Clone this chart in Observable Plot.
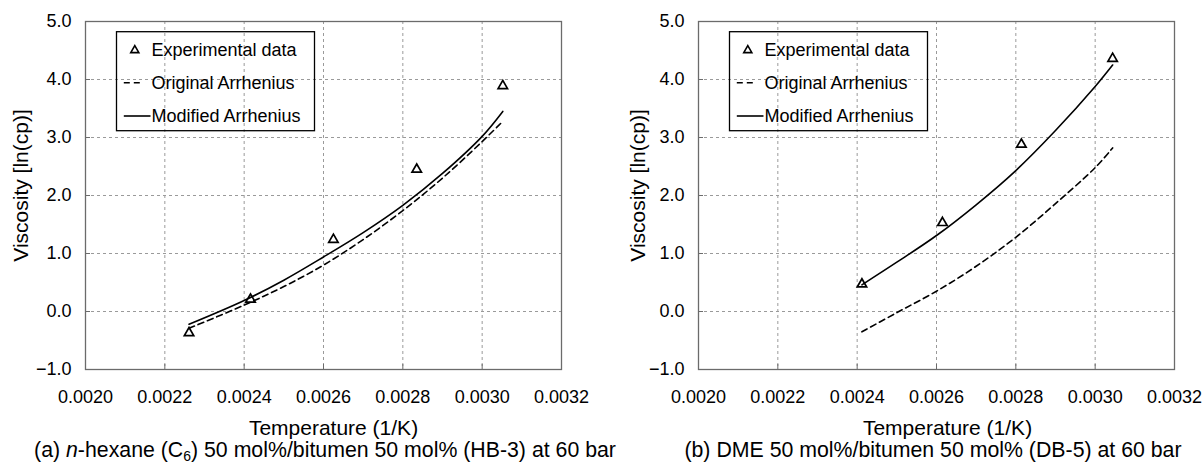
<!DOCTYPE html>
<html>
<head>
<meta charset="utf-8">
<script src="https://cdn.jsdelivr.net/npm/d3@7"></script>
<script src="https://cdn.jsdelivr.net/npm/@observablehq/plot@0.6"></script>
<style>
  html, body { margin: 0; padding: 0; background: #fff; }
  #wrap { position: relative; width: 1203px; height: 465px; overflow: hidden;
          font-family: "Liberation Sans", Arial, Helvetica, sans-serif; color: #000; }
  .panel { position: absolute; top: 0; }
  .cap { position: absolute; width: 600px; text-align: center; font-size: 21.3px; line-height: 24px; white-space: nowrap; }
  .cap sub { font-size: 14px; line-height: 0; vertical-align: -4px; }
</style>
</head>
<body>
<div id="wrap">
  <div class="panel" id="pa" style="left:0px"></div>
  <div class="panel" id="pb" style="left:600px"></div>
  <div class="cap" id="capA" style="left:25px;top:438px"></div>
  <div class="cap" id="capB" style="left:633px;top:438px"></div>
</div>
<script>
// Inverse temperature (1/K) against ln(viscosity in cP)

// (a) n-hexane / bitumen, HB-3
const hbTemp = [0.002261, 0.002416, 0.002625, 0.002835, 0.003052];
const hbVisc = [-0.37, 0.21, 1.24, 2.45, 3.89];
const hbCurveT = [0.002261, 0.0024, 0.0025, 0.0026, 0.0027, 0.0028, 0.0029, 0.0030, 0.003052];
const hbOrig = [-0.29, 0.11, 0.43, 0.80, 1.24, 1.74, 2.30, 2.93, 3.28];
const hbMod = [-0.22, 0.19, 0.54, 0.94, 1.36, 1.83, 2.38, 3.02, 3.45];

// (b) DME / bitumen, DB-5
const dbTemp = [0.002412, 0.002615, 0.002814, 0.003044];
const dbVisc = [0.47, 1.53, 2.88, 4.36];
const dbCurveT = [0.002412, 0.0025, 0.0026, 0.0027, 0.0028, 0.0029, 0.0030, 0.003044];
const dbOrig = [-0.35, -0.02, 0.35, 0.78, 1.28, 1.86, 2.48, 2.82];
const dbMod = [0.46, 0.85, 1.31, 1.84, 2.43, 3.12, 3.88, 4.25];

const xTicks = [0.0020, 0.0022, 0.0024, 0.0026, 0.0028, 0.0030, 0.0032];
const yTicks = [-1, 0, 1, 2, 3, 4, 5];
const legendLabels = ["Experimental data", "Original Arrhenius", "Modified Arrhenius"];
const xLabel = "Temperature (1/K)";
const yLabel = "Viscosity [ln(cp)]";
const captionA = '(a) <i>n</i>-hexane (C<sub>6</sub>) 50 mol%/bitumen 50 mol% (HB-3) at 60 bar';
const captionB = '(b) DME 50 mol%/bitumen 50 mol% (DB-5) at 60 bar';

const FONT = '"Liberation Sans", Arial, Helvetica, sans-serif';
const FRAME = "#6b6b6b";
const GRID = "#9a9a9a";

const pairs = (xs, ys) => xs.map((x, i) => ({t: x, v: ys[i]}));

function panel({width, marginLeft, marginRight, pts, orig, mod, xLabelDx, yLabelDx}) {
  const marginTop = 21, height = 438, marginBottom = height - 369;
  const fmtX = d3.format(".4f");
  const fmtY = d3.format(".1f");
  const svg = Plot.plot({
    width, height, marginLeft, marginRight, marginTop, marginBottom,
    style: {fontFamily: FONT, fontSize: "18px", color: "#000", background: "#fff", overflow: "visible"},
    x: {domain: [0.0020, 0.0032]},
    y: {domain: [-1, 5]},
    marks: [
      Plot.gridX(xTicks, {stroke: GRID, strokeOpacity: 1, strokeWidth: 1, strokeDasharray: "3,3"}),
      Plot.gridY(yTicks, {stroke: GRID, strokeOpacity: 1, strokeWidth: 1, strokeDasharray: "3,3"}),
      // tick labels
      Plot.axisX(xTicks, {tickSize: 0, tickPadding: 21, tickFormat: fmtX, label: null, fontSize: 18}),
      Plot.axisY(yTicks, {tickSize: 0, tickPadding: 14, tickFormat: fmtY, label: null, fontSize: 18}),
      // short inward tick marks
      Plot.axisX(xTicks, {tickSize: 5, dy: -5, tickFormat: () => "", label: null, stroke: FRAME}),
      Plot.axisY(yTicks, {tickSize: 5, dx: 5, tickFormat: () => "", label: null, stroke: FRAME}),
      Plot.frame({stroke: FRAME, strokeWidth: 1.3}),
      Plot.line(orig, {x: "t", y: "v", curve: "catmull-rom", stroke: "#000", strokeWidth: 1.6, strokeDasharray: "6,4"}),
      Plot.line(mod, {x: "t", y: "v", curve: "catmull-rom", stroke: "#000", strokeWidth: 1.6}),
      Plot.dot(pts, {x: "t", y: "v", symbol: "triangle", r: 3.5, stroke: "#000", strokeWidth: 1.7, fill: "none"}),
      Plot.text([xLabel], {frameAnchor: "bottom", lineAnchor: "middle", textAnchor: "middle", dy: 59, dx: xLabelDx, fontSize: 21, fill: "#000"}),
      Plot.text([yLabel], {frameAnchor: "left", lineAnchor: "middle", textAnchor: "middle", rotate: -90, dx: yLabelDx, dy: -10, fontSize: 21, fill: "#000"})
    ]
  });

  // legend box in the upper-left corner of the frame (transparent, grid shows through)
  const g = d3.select(svg).append("g").attr("font-family", FONT).attr("font-size", 18).attr("text-anchor", "start");
  const bx = marginLeft + 31.5, by = marginTop + 10.7, bw = 198, bh = 99;
  g.append("rect").attr("x", bx).attr("y", by).attr("width", bw).attr("height", bh)
    .attr("fill", "none").attr("stroke", "#000").attr("stroke-width", 1.3);
  const rows = [by + 17.6, by + 51, by + 84.3];
  g.append("path").attr("d", d3.symbol(d3.symbolTriangle, Math.PI * 3 * 3)())
    .attr("transform", `translate(${bx + 18.3},${rows[0] + 1})`)
    .attr("fill", "none").attr("stroke", "#000").attr("stroke-width", 1.6);
  g.append("line").attr("x1", bx + 7.3).attr("x2", bx + 27).attr("y1", rows[1]).attr("y2", rows[1])
    .attr("stroke", "#000").attr("stroke-width", 1.6).attr("stroke-dasharray", "6,4");
  g.append("line").attr("x1", bx + 7.3).attr("x2", bx + 34).attr("y1", rows[2]).attr("y2", rows[2])
    .attr("stroke", "#000").attr("stroke-width", 1.6);
  legendLabels.forEach((s, i) => {
    g.append("text").attr("x", bx + 35).attr("y", rows[i]).attr("dy", "0.35em").attr("text-anchor", "start").text(s);
  });
  return svg;
}

document.getElementById("pa").append(panel({
  width: 600, marginLeft: 85, marginRight: 39,
  pts: pairs(hbTemp, hbVisc), orig: pairs(hbCurveT, hbOrig), mod: pairs(hbCurveT, hbMod),
  xLabelDx: 10, yLabelDx: -64
}));
document.getElementById("pb").append(panel({
  width: 603, marginLeft: 98, marginRight: 29,
  pts: pairs(dbTemp, dbVisc), orig: pairs(dbCurveT, dbOrig), mod: pairs(dbCurveT, dbMod),
  xLabelDx: 11, yLabelDx: -60.5
}));
document.getElementById("capA").innerHTML = captionA;
document.getElementById("capB").innerHTML = captionB;
</script>
</body>
</html>
